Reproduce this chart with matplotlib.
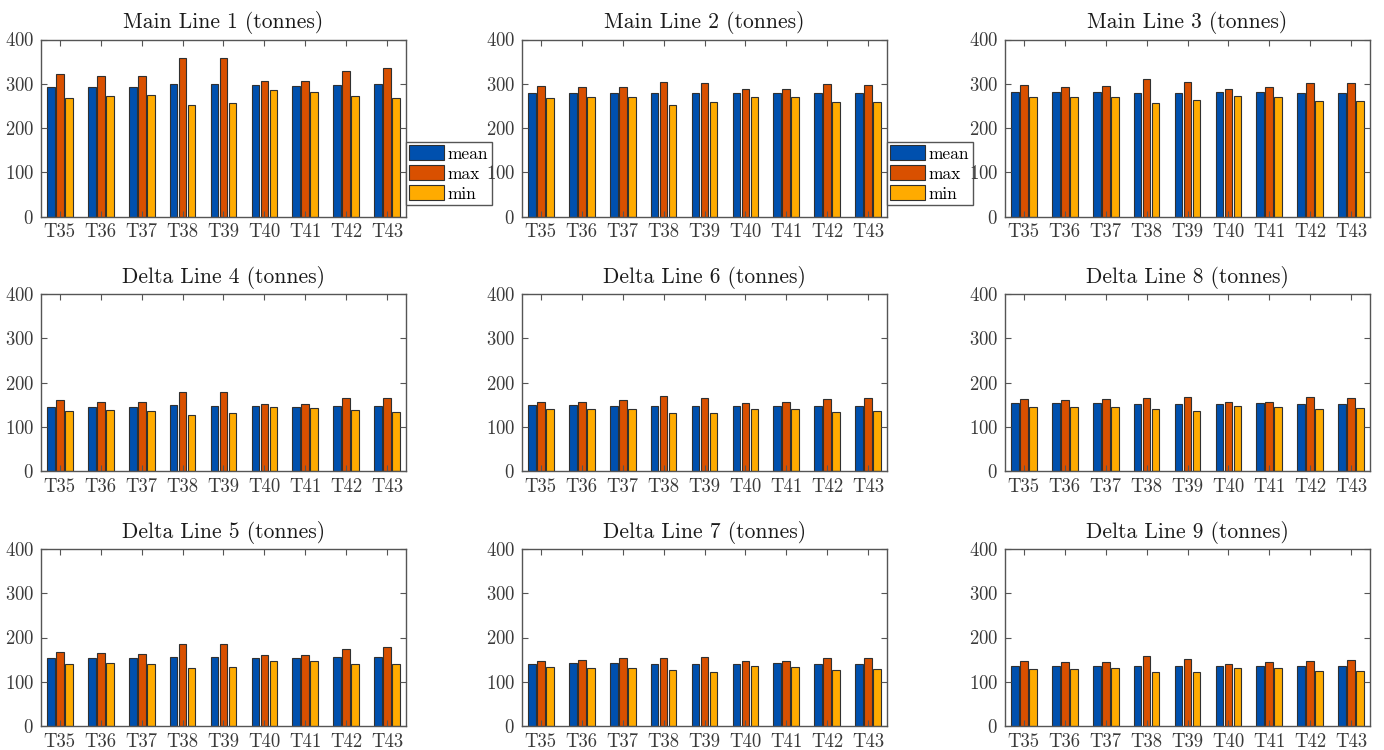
import numpy as np
import matplotlib.pyplot as plt

plt.rcParams['font.family'] = 'serif'
plt.rcParams['font.serif'] = ['cmr10']
plt.rcParams['axes.formatter.use_mathtext'] = True

cycles = ['T35', 'T36', 'T37', 'T38', 'T39', 'T40', 'T41', 'T42', 'T43']
series = ['mean', 'max', 'min']
colors = ['#0050ae', '#d95000', '#ffab00']

# tonnes per cycle: mean, max, min
main1_mean = [293, 293, 293, 299, 299, 297, 295, 297, 299]
main1_max = [321, 317, 317, 358, 358, 307, 307, 329, 336]
main1_min = [268, 272, 274, 251, 257, 287, 282, 272, 268]

main2_mean = [280, 280, 280, 280, 280, 280, 280, 280, 280]
main2_max = [295, 292, 293, 304, 302, 288, 289, 300, 298]
main2_min = [267, 269, 269, 252, 258, 269, 271, 258, 258]

main3_mean = [282, 282, 282, 280, 280, 282, 282, 280, 280]
main3_max = [298, 293, 295, 310, 304, 289, 292, 302, 302]
main3_min = [269, 269, 269, 257, 263, 273, 271, 261, 261]

delta4_mean = [145, 145, 145, 150, 148, 148, 145, 148, 148]
delta4_max = [160, 157, 157, 178, 178, 152, 152, 164, 166]
delta4_min = [136, 138, 136, 127, 132, 144, 142, 138, 133]

delta6_mean = [150, 150, 148, 148, 148, 148, 148, 148, 148]
delta6_max = [157, 157, 160, 170, 166, 154, 156, 162, 164]
delta6_min = [139, 139, 139, 131, 131, 139, 139, 133, 136]

delta8_mean = [154, 154, 154, 151, 151, 151, 154, 151, 151]
delta8_max = [162, 160, 162, 166, 168, 157, 157, 168, 166]
delta8_min = [145, 145, 145, 139, 136, 148, 145, 139, 142]

delta5_mean = [153, 153, 153, 155, 155, 153, 153, 155, 155]
delta5_max = [167, 164, 163, 186, 186, 161, 161, 173, 178]
delta5_min = [140, 142, 140, 130, 134, 146, 146, 139, 139]

delta7_mean = [140, 142, 142, 140, 140, 140, 142, 140, 140]
delta7_max = [148, 150, 154, 154, 157, 146, 148, 154, 154]
delta7_min = [134, 132, 132, 126, 123, 136, 134, 126, 128]

delta9_mean = [136, 136, 136, 136, 136, 136, 136, 136, 136]
delta9_max = [146, 144, 144, 158, 152, 140, 144, 148, 150]
delta9_min = [128, 128, 130, 122, 122, 130, 130, 124, 124]

panels = [
    ('Main Line 1 (tonnes)', main1_mean, main1_max, main1_min),
    ('Main Line 2 (tonnes)', main2_mean, main2_max, main2_min),
    ('Main Line 3 (tonnes)', main3_mean, main3_max, main3_min),
    ('Delta Line 4 (tonnes)', delta4_mean, delta4_max, delta4_min),
    ('Delta Line 6 (tonnes)', delta6_mean, delta6_max, delta6_min),
    ('Delta Line 8 (tonnes)', delta8_mean, delta8_max, delta8_min),
    ('Delta Line 5 (tonnes)', delta5_mean, delta5_max, delta5_min),
    ('Delta Line 7 (tonnes)', delta7_mean, delta7_max, delta7_min),
    ('Delta Line 9 (tonnes)', delta9_mean, delta9_max, delta9_min),
]

W, H = 1384, 750
fig = plt.figure(figsize=(W / 100, H / 100), dpi=100)

lefts = [41, 522, 1005]
tops = [39.5, 294, 549]
aw, ah = 365, 177

x = np.arange(1, len(cycles) + 1)
offsets = [-0.22, 0, 0.22]
bw = 0.19

for i, (title, mean, mx, mn) in enumerate(panels):
    r, c = divmod(i, 3)
    ax = fig.add_axes([lefts[c] / W, (H - tops[r] - ah) / H, aw / W, ah / H])
    for vals, off, col, name in zip([mean, mx, mn], offsets, colors, series):
        ax.bar(x + off, vals, bw, color=col, edgecolor='#303030',
               linewidth=0.8, label=name)
    ax.set_xlim(0.54, 9.46)
    ax.set_ylim(0, 400)
    ax.set_yticks([0, 100, 200, 300, 400])
    ax.set_xticks(x)
    ax.set_xticklabels(cycles)
    ax.set_title(title, fontsize=15.5, pad=8, color='#1a1a1a')
    ax.tick_params(direction='in', top=True, right=True, length=4,
                   width=0.8, color='#555555', labelsize=13.5,
                   labelcolor='#3a3a3a', pad=5)
    for sp in ax.spines.values():
        sp.set_color('#555555')
        sp.set_linewidth(1.0)
    if i in (0, 1):
        ax.legend(loc='lower left', bbox_to_anchor=(1.0, 0.065),
                  fontsize=12.5, frameon=True, fancybox=False,
                  edgecolor='#555555', framealpha=1,
                  handlelength=2.0, handleheight=0.95, handletextpad=0.2,
                  labelspacing=0.2, borderpad=0.2, borderaxespad=0.0)

fig.savefig('out.png', dpi=100)
